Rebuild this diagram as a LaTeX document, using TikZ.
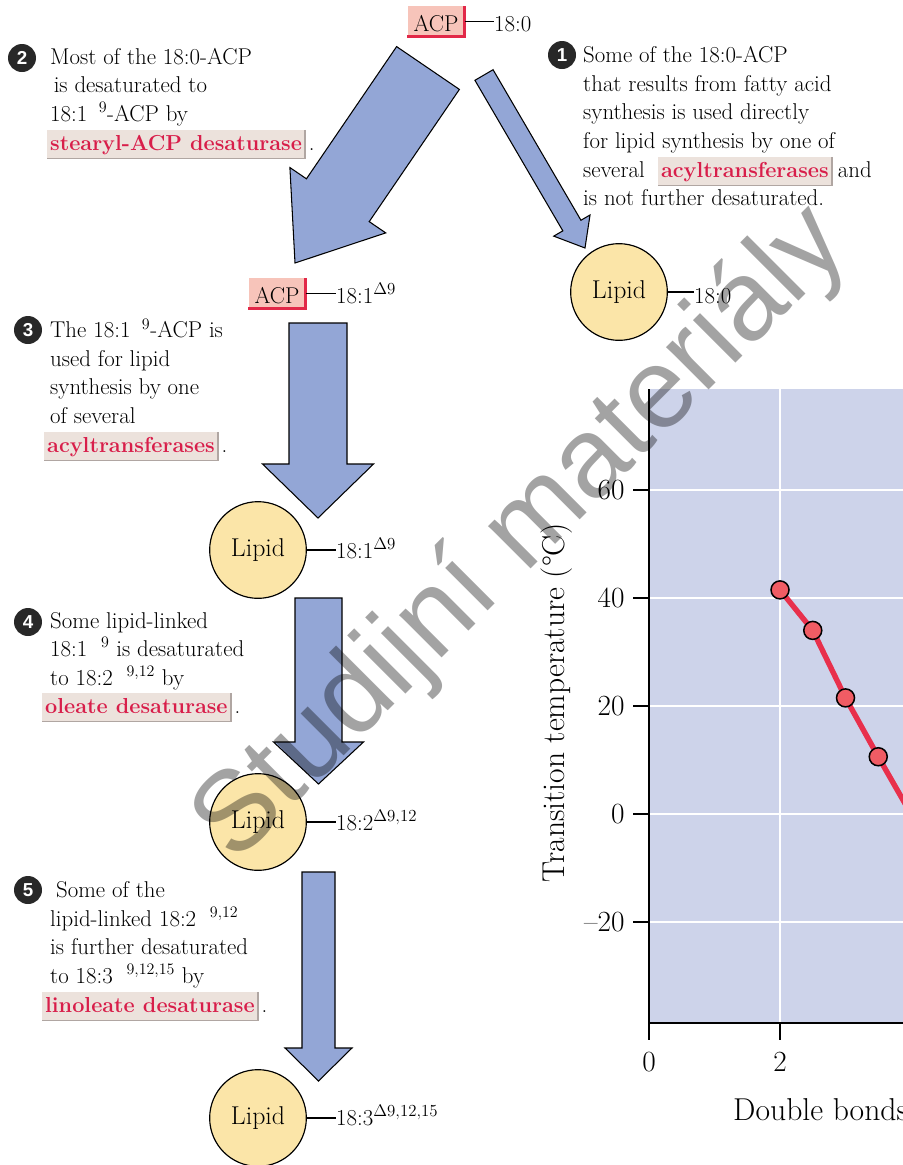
\documentclass[tikz,border=0pt]{standalone}
\usepackage{fontspec}
\newfontfamily\numfont{Liberation Sans}
\usetikzlibrary{calc,positioning}

\definecolor{arrowfill}{RGB}{147,166,214}
\definecolor{lipidfill}{RGB}{251,229,168}
\definecolor{acpfill}{RGB}{247,196,186}
\definecolor{acpred}{RGB}{226,40,72}
\definecolor{enzbg}{RGB}{236,226,220}
\definecolor{enzedge}{RGB}{176,166,162}
\definecolor{enzred}{RGB}{216,30,74}
\definecolor{numfill}{RGB}{40,40,40}
\definecolor{plotbg}{RGB}{205,211,234}
\definecolor{curvered}{RGB}{232,48,76}
\definecolor{dotred}{RGB}{240,92,100}

% one unit of the picture
\newcommand\pxu{0.03cm}
% block arrow: tail, tip, shaft half-width, head half-width, head length
\newcommand\fatarrow[5]{%
  \draw[flowarrow]
    ($(#1)!#3*\pxu!90:(#2)$)
    -- ($(#2)!#5*\pxu!(#1)!#3*\pxu!-90:(#1)$)
    -- ($(#2)!#5*\pxu!(#1)!#4*\pxu!-90:(#1)$)
    -- (#2)
    -- ($(#2)!#5*\pxu!(#1)!#4*\pxu!90:(#1)$)
    -- ($(#2)!#5*\pxu!(#1)!#3*\pxu!90:(#1)$)
    -- ($(#1)!#3*\pxu!-90:(#2)$) -- cycle;}

\tikzset{
  txt/.style={font=\fontsize{19.5}{24.2}\selectfont, inner sep=0pt, align=left, anchor=base west},
  enzyme/.style={txt, fill=enzbg, text=enzred, font=\fontsize{18.5}{24.2}\selectfont\bfseries,
    inner xsep=2.5pt, inner ysep=2pt, text height=15pt, text depth=5pt},
  rim/.style={draw=enzedge, line width=1.3pt},
  acp/.style={fill=acpfill, font=\fontsize{19.5}{24.2}\selectfont, anchor=base,
    inner xsep=5pt, inner ysep=3pt, text height=18pt, text depth=1.5pt},
  acprim/.style={draw=acpred, line width=2pt},
  lipid/.style={circle, draw, fill=lipidfill, line width=1pt, minimum size=2.9cm,
    inner sep=0pt, font=\fontsize{22}{26}\selectfont},
  stub/.style={line width=1.2pt},
  stepnum/.style={circle, fill=numfill, text=white, minimum size=0.84cm, inner sep=0pt,
    font=\numfont\bfseries\fontsize{16}{16}\selectfont},
  flowarrow/.style={fill=arrowfill, draw=black, line width=0.9pt, line join=miter},
  gridline/.style={white, line width=1.7pt},
  axis/.style={black, line width=1.6pt},
  ticklabel/.style={font=\fontsize{25}{28}\selectfont, inner sep=0pt},
  axislabel/.style={font=\fontsize{27}{30}\selectfont, inner sep=0pt},
  curve/.style={curvered, line width=4.6pt, line join=round},
  dot/.style={circle, draw=black, fill=dotred, line width=1.3pt, minimum size=0.54cm, inner sep=0pt},
  watermark/.style={font=\numfont\fontsize{97}{100}\selectfont, text=black, text opacity=0.36, rotate=45}
}

\begin{document}
\begin{tikzpicture}[x=\pxu, y=-\pxu]
\useasboundingbox (0,0) rectangle (903,1165);
\clip (0,0) rectangle (903,1165);

% transition temperature plot
\begin{scope}[shift={(649,814)}, x=1.965cm, y=0.162cm]
  \fill[plotbg] (0,-38.7) rectangle (4.6,78.7);
  \foreach \v in {-20,0,...,60}
    \draw[gridline] (0,\v) -- (4.6,\v);
  \foreach \u in {2,4}
    \draw[gridline] (\u,-38.7) -- (\u,78.7);
  \draw[axis] (0,78.7) -- (0,-38.7) -- (4.6,-38.7);
  \foreach \v/\t in {-20/--20,0/0,20/20,40/40,60/60} {
    \draw[axis] (0,\v) -- (-0.244,\v);
    \node[ticklabel, anchor=east] at (-0.37,\v) {\t};
  }
  \foreach \u in {0,2,4} {
    \draw[axis] (\u,-38.7) -- (\u,-41.85);
    \node[ticklabel] at (\u,-45.9) {\u};
  }
  \foreach \x/\y [count=\i] in {2/41.5,2.5/34,3/21.5,3.5/10.6,4/0}
    \coordinate (pt\i) at (\x,\y);
  \draw[curve] (pt1) -- (pt2) -- (pt3) -- (pt4) -- (pt5);
  \foreach \i in {1,...,4}
    \node[dot] (dot\i) at (pt\i) {};
\end{scope}
\node[axislabel, rotate=90] (ytitle) at (557,703) {Transition temperature (°C)};
\node[axislabel, anchor=base west] (xtitle) at (733,1120) {Double bonds};

% block arrows
\coordinate (a1s) at (484,75);    \coordinate (a1t) at (585,248);
\coordinate (a2s) at (428,68);    \coordinate (a2t) at (295,263);
\coordinate (a3s) at (318,323);   \coordinate (a3t) at (318,518);
\coordinate (a4s) at (318.5,598); \coordinate (a4t) at (318.5,784);
\coordinate (a5s) at (318.5,872); \coordinate (a5t) at (318.5,1081);
\fatarrow{a1s}{a1t}{10.5}{21}{26}
\fatarrow{a2s}{a2t}{38}{58}{76}
\fatarrow{a3s}{a3t}{29}{55.5}{54}
\fatarrow{a4s}{a4t}{23.5}{45}{42}
\fatarrow{a5s}{a5t}{16.5}{33.5}{33}

% acyl carriers and lipids
\node[acp] (acp0) at (436,31) {ACP};
\draw[acprim] (acp0.north east) -- (acp0.south east) -- (acp0.south west);
\node[txt] (fa0) at (494,31) {18:0};
\draw[stub] (acp0.east) -- (acp0.east -| fa0.west);

\node[lipid] (lip1) at (619,292) {Lipid};
\node[txt] (fa1) at (694,303) {18:0};
\draw[stub] (lip1.east) -- (lip1.east -| fa1.west);

\node[acp] (acp1) at (277,303) {ACP};
\draw[acprim] (acp1.north east) -- (acp1.south east) -- (acp1.south west);
\node[txt] (fa2) at (336,303) {18:1$^{\Delta9}$};
\draw[stub] (acp1.east) -- (acp1.east -| fa2.west);

\node[lipid] (lip2) at (258,550) {Lipid};
\node[txt] (fa3) at (336,558) {18:1$^{\Delta9}$};
\draw[stub] (lip2.east) -- (lip2.east -| fa3.west);

\node[lipid] (lip3) at (258,822) {Lipid};
\node[txt] (fa4) at (336,830) {18:2$^{\Delta9{,}12}$};
\draw[stub] (lip3.east) -- (lip3.east -| fa4.west);

\node[lipid] (lip4) at (258,1118) {Lipid};
\node[txt] (fa5) at (336,1125) {18:3$^{\Delta9{,}12{,}15}$};
\draw[stub] (lip4.east) -- (lip4.east -| fa5.west);

% step 1 (text nodes sit on the baseline of their last line)
\node[stepnum] (n1) at (562,55) {1};
\node[txt] (s1) at (583,148) {Some of the 18:0-ACP\\that results from fatty acid\\synthesis is used directly\\for lipid synthesis by one of};
\node[txt] (s1b) at (583,177) {several};
\node[enzyme] (e1) at ([xshift=11pt]s1b.base east) {acyltransferases};
\draw[rim] (e1.north east) -- (e1.south east) -- (e1.south west);
\node[txt] (s1c) at ([xshift=5pt]e1.base east) {and};
\node[txt] (s1d) at (583,205) {is not further desaturated.};

% step 2
\node[stepnum] (n2) at (22,58) {2};
\node[txt] (s2) at (50,121) {Most of the 18:0-ACP\\\hspace*{3pt}is desaturated to\\18:1\hspace{0.5em}\textsuperscript{9}-ACP by};
\node[enzyme] (e2) at (47,150) {stearyl-ACP desaturase};
\draw[rim] (e2.north east) -- (e2.south east) -- (e2.south west);
\node[txt] (p2) at ([xshift=3pt]e2.base east) {.};

% step 3
\node[stepnum] (n3) at (28,330) {3};
\node[txt] (s3) at (50,423) {The 18:1\hspace{0.5em}\textsuperscript{9}-ACP is\\used for lipid\\synthesis by one\\of several};
\node[enzyme] (e3) at (44,452) {acyltransferases};
\draw[rim] (e3.north east) -- (e3.south east) -- (e3.south west);
\node[txt] (p3) at ([xshift=3pt]e3.base east) {.};

% step 4
\node[stepnum] (n4) at (28,622) {4};
\node[txt] (s4) at (50,685) {Some lipid-linked\\18:1\hspace{0.6em}\textsuperscript{9} is desaturated\\to 18:2\hspace{0.6em}\textsuperscript{9,12} by};
\node[enzyme] (e4) at (42,713) {oleate desaturase};
\draw[rim] (e4.north east) -- (e4.south east) -- (e4.south west);
\node[txt] (p4) at ([xshift=3pt]e4.base east) {.};

% step 5
\node[stepnum] (n5) at (28,890) {5};
\node[txt] (s5) at (50,983) {\hspace*{5pt}Some of the\\lipid-linked 18:2\hspace{0.6em}\textsuperscript{9,12}\\is further desaturated\\to 18:3\hspace{0.6em}\textsuperscript{9,12,15} by};
\node[enzyme] (e5) at (42,1012) {linoleate desaturase};
\draw[rim] (e5.north east) -- (e5.south east) -- (e5.south west);
\node[txt] (p5) at ([xshift=3pt]e5.base east) {.};

% watermark
\node[watermark] (wm) at (522,535) {Studijní materiály};
\end{tikzpicture}
\end{document}
